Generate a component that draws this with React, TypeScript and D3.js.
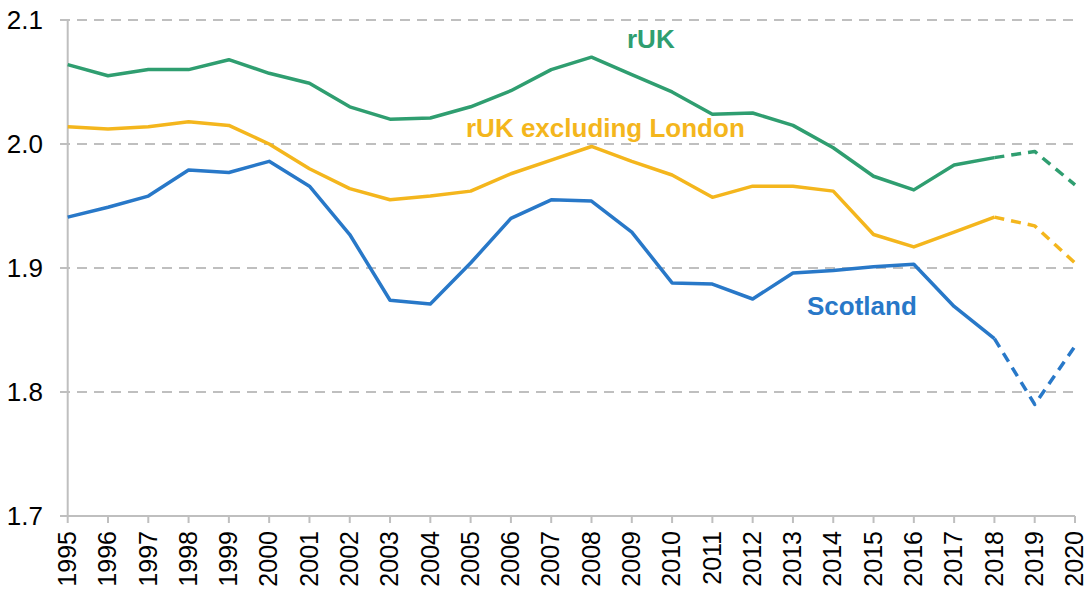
import * as d3 from 'd3'

const years = d3.range(1995, 2021)

const rukValues = [
  2.064, 2.055, 2.06, 2.06, 2.068, 2.057, 2.049, 2.03, 2.02, 2.021, 2.03, 2.043, 2.06,
  2.07, 2.056, 2.042, 2.024, 2.025, 2.015, 1.997, 1.974, 1.963, 1.983, 1.989, 1.994, 1.967,
]
const rukExLondonValues = [
  2.014, 2.012, 2.014, 2.018, 2.015, 2.0, 1.98, 1.964, 1.955, 1.958, 1.962, 1.976, 1.987,
  1.998, 1.986, 1.975, 1.957, 1.966, 1.966, 1.962, 1.927, 1.917, 1.929, 1.941, 1.934, 1.904,
]
const scotlandValues = [
  1.941, 1.949, 1.958, 1.979, 1.977, 1.986, 1.966, 1.927, 1.874, 1.871, 1.904, 1.94, 1.955,
  1.954, 1.929, 1.888, 1.887, 1.875, 1.896, 1.898, 1.901, 1.903, 1.869, 1.843, 1.79, 1.837,
]

// last actual year, after which the lines are projections (dashed)
const lastActualYear = 2018

const yTicks = [1.7, 1.8, 1.9, 2.0, 2.1]

const series = [
  { name: 'rUK', values: rukValues, color: '#2f9e70', labelX: 627, labelY: 48 },
  { name: 'rUK excluding London', values: rukExLondonValues, color: '#f4b61d', labelX: 466, labelY: 137 },
  { name: 'Scotland', values: scotlandValues, color: '#2878c8', labelX: 807, labelY: 315 },
]

const width = 1088
const height = 594
const left = 67.7
const right = 1075
const top = 20
const bottom = 516
const font = '"Liberation Sans", Arial, sans-serif'
const gridColor = '#bfbfbf'

export default function App() {
  const x = d3.scaleLinear().domain([1995, 2020]).range([left, right])
  const y = d3.scaleLinear().domain([1.7, 2.1]).range([bottom, top])

  const line = d3
    .line<[number, number]>()
    .x((d) => x(d[0]))
    .y((d) => y(d[1]))

  return (
    <div style={{ position: 'fixed', left: 0, top: 0 }}>
      <svg width={width} height={height} style={{ display: 'block', background: '#fff' }}>
        {yTicks.map((t) => (
          <g key={t}>
            {t > 1.7 && (
              <line
                x1={60}
                x2={right}
                y1={y(t)}
                y2={y(t)}
                stroke={gridColor}
                strokeWidth={2}
                strokeDasharray="10,7"
              />
            )}
            <text
              x={43}
              y={y(t)}
              dy="0.35em"
              textAnchor="end"
              fontFamily={font}
              fontSize={26}
              fill="#000"
            >
              {t.toFixed(1)}
            </text>
          </g>
        ))}

        <line x1={left} x2={left} y1={top} y2={bottom} stroke={gridColor} strokeWidth={2} />
        <line x1={60} x2={right} y1={bottom} y2={bottom} stroke={gridColor} strokeWidth={2} />

        {years.map((yr) => (
          <g key={yr}>
            <line x1={x(yr)} x2={x(yr)} y1={bottom} y2={bottom + 7} stroke={gridColor} strokeWidth={2} />
            <text
              transform={`translate(${x(yr)},${bottom + 15}) rotate(-90)`}
              dy="0.33em"
              textAnchor="end"
              fontFamily={font}
              fontSize={25}
              fill="#000"
            >
              {yr}
            </text>
          </g>
        ))}

        {series.map((s) => {
          const pts: [number, number][] = years.map((yr, i) => [yr, s.values[i]])
          const actual = pts.filter((d) => d[0] <= lastActualYear)
          const projected = pts.filter((d) => d[0] >= lastActualYear)
          return (
            <g key={s.name}>
              <path
                d={line(actual) ?? ''}
                fill="none"
                stroke={s.color}
                strokeWidth={3.5}
                strokeLinejoin="round"
              />
              <path
                d={line(projected) ?? ''}
                fill="none"
                stroke={s.color}
                strokeWidth={3.5}
                strokeDasharray="10,7"
                strokeLinejoin="round"
              />
              <text
                x={s.labelX}
                y={s.labelY}
                fontFamily={font}
                fontSize={26}
                fontWeight="bold"
                fill={s.color}
              >
                {s.name}
              </text>
            </g>
          )
        })}
      </svg>
    </div>
  )
}
